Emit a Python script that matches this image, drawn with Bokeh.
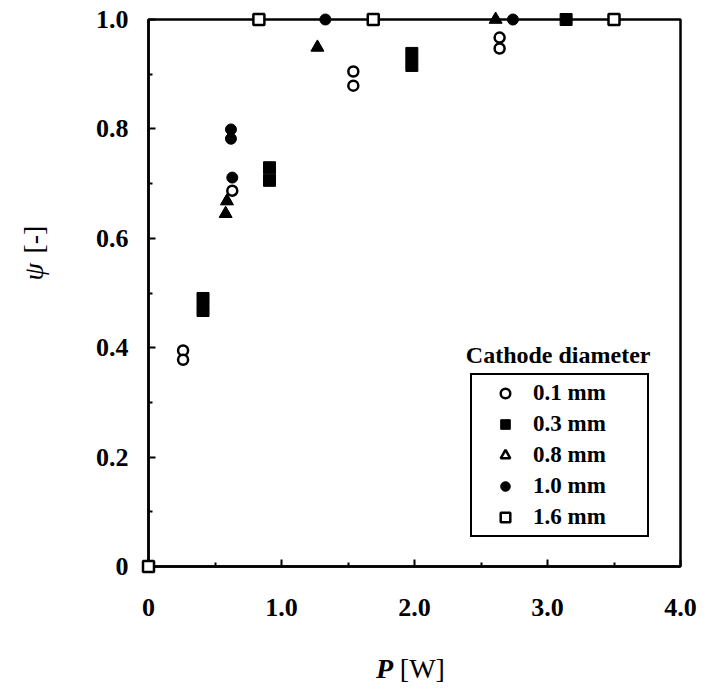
import math
from bokeh.plotting import figure
from bokeh.models import Range1d, FixedTicker, Legend, LegendItem, Label
from bokeh.core.properties import value
from bokeh.embed import file_html
from bokeh.resources import INLINE

# ---- data ----
x_ticks = [0, 1, 2, 3, 4]
x_tick_labels = ["0", "1.0", "2.0", "3.0", "4.0"]
y_ticks = [0, 0.2, 0.4, 0.6, 0.8, 1.0]
y_tick_labels = ["0", "0.2", "0.4", "0.6", "0.8", "1.0"]
series_labels = ["0.1 mm", "0.3 mm", "0.8 mm", "1.0 mm", "1.6 mm"]

d01_x = [0.26, 0.26, 0.63, 1.54, 1.54, 2.64, 2.64]
d01_y = [0.395, 0.378, 0.687, 0.905, 0.879, 0.967, 0.947]
d03_x = [0.41, 0.41, 0.91, 0.91, 1.98, 1.98, 3.14]
d03_y = [0.49, 0.468, 0.729, 0.706, 0.938, 0.916, 1.0]
d08_x = [0.59, 0.58, 1.27, 2.61]
d08_y = [0.668, 0.645, 0.949, 1.0]
d10_x = [0.62, 0.62, 0.63, 1.33, 2.74]
d10_y = [0.799, 0.782, 0.711, 1.0, 1.0]
d16_x = [0.0, 0.83, 1.69, 3.50]
d16_y = [0.0, 1.0, 1.0, 1.0]

FONT = "Liberation Serif"

p = figure(width=698, height=686, output_backend="svg", toolbar_location=None,
           x_range=Range1d(0, 4), y_range=Range1d(0, 1),
           min_border_left=148, min_border_right=18, min_border_top=19,
           min_border_bottom=120)
p.grid.visible = False
p.background_fill_color = "white"
p.border_fill_color = "white"
p.outline_line_color = "black"
p.outline_line_width = 2.5
p.outline_line_alpha = 1.0

p.xaxis.ticker = FixedTicker(ticks=x_ticks, minor_ticks=[0.5, 1.5, 2.5, 3.5])
p.yaxis.ticker = FixedTicker(ticks=y_ticks, minor_ticks=[0.1, 0.3, 0.5, 0.7, 0.9])
p.xaxis.major_label_overrides = {t: s for t, s in zip(x_ticks, x_tick_labels)}
p.yaxis.major_label_overrides = {t: s for t, s in zip(y_ticks, y_tick_labels)}
for ax in (p.xaxis[0], p.yaxis[0]):
    ax.axis_line_width = 2.5
    ax.axis_line_color = "black"
    ax.major_tick_in = 7
    ax.major_tick_out = 0
    ax.minor_tick_in = 4
    ax.minor_tick_out = 0
    ax.major_tick_line_width = 2
    ax.minor_tick_line_width = 2
    ax.major_label_text_font = FONT
    ax.major_label_text_font_size = "26px"
    ax.major_label_text_font_style = "bold"
    ax.major_label_text_color = "black"
p.xaxis.major_label_standoff = 32
p.yaxis.major_label_standoff = 20

lw = 2.5
# legend key for 0.8 mm is an open triangle in the original; it sits hidden
# underneath the filled triangles drawn in the plot
r08_key = p.scatter(d08_x, d08_y, marker="triangle", size=9, fill_color="white",
                    line_color="black", line_width=lw, level="overlay")
r01 = p.scatter(d01_x, d01_y, marker="circle", size=10, fill_color="white",
                line_color="black", line_width=lw, level="overlay")
r03 = p.scatter(d03_x, d03_y, marker="square", size=12, fill_color="black",
                line_color="black", line_width=1, level="overlay")
r08 = p.scatter(d08_x, d08_y, marker="triangle", size=13, fill_color="black",
                line_color="black", line_width=1, level="overlay")
r10 = p.scatter(d10_x, d10_y, marker="circle", size=11, fill_color="black",
                line_color="black", line_width=1, level="overlay")
r16 = p.scatter(d16_x, d16_y, marker="square", size=11, fill_color="white",
                line_color="black", line_width=lw, level="overlay")

renderers = [r01, r03, r08_key, r10, r16]
legend = Legend(items=[LegendItem(label=l, renderers=[r]) for l, r in zip(series_labels, renderers)],
                location=(322, 29), padding=5, margin=0, spacing=5,
                glyph_width=56, glyph_height=24, label_height=24, label_width=109,
                label_standoff=0, border_line_color="black", border_line_width=2.5,
                border_line_alpha=1.0,
                background_fill_color="white", background_fill_alpha=1.0,
                label_text_font=FONT, label_text_font_size="23px",
                label_text_font_style="bold", label_text_color="black")
p.add_layout(legend)

p.add_layout(Label(x=3.08, y=0.386, text="Cathode diameter", text_font=FONT,
                   text_font_size="24px", text_font_style="bold", text_align="center",
                   text_baseline="middle", text_color="black"))

# axis titles (drawn as text glyphs so they may sit outside the frame)
p.text(x=[1.84], y=[-0.186], text=["P"], text_font=value(FONT), text_font_size="28px",
       text_font_style="bold italic", text_align="right", text_baseline="middle",
       text_color="black", level="overlay")
p.text(x=[1.89], y=[-0.186], text=["[W]"], text_font=value(FONT), text_font_size="28px",
       text_font_style="normal", text_align="left", text_baseline="middle",
       text_color="black", level="overlay")
p.text(x=[-0.865], y=[0.523], text=["ψ"], text_font=value(FONT), text_font_size="28px",
       text_font_style="italic", text_align="left", text_baseline="middle",
       angle=math.pi / 2, text_color="black", level="overlay")
p.text(x=[-0.865], y=[0.572], text=["[-]"], text_font=value(FONT), text_font_size="28px",
       text_font_style="normal", text_align="left", text_baseline="middle",
       angle=math.pi / 2, text_color="black", level="overlay")

open("out.html", "w").write(file_html(p, INLINE))
